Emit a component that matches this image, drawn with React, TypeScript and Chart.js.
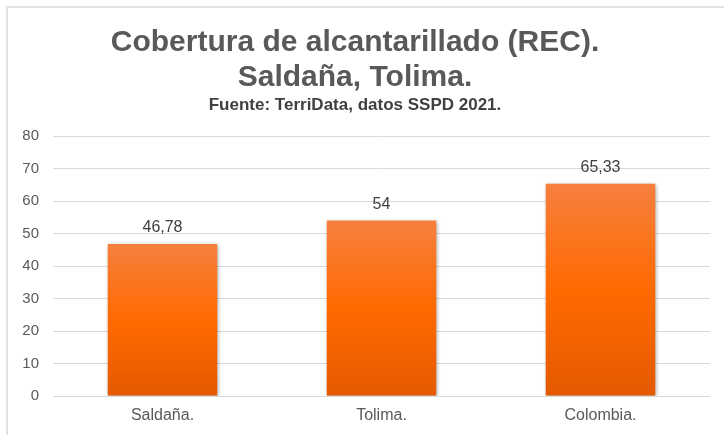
import React, { useEffect, useRef } from "react";
import { Chart, registerables } from "chart.js";

Chart.register(...registerables);

const categories = ["Saldaña.", "Tolima.", "Colombia."];
const coverage = [46.78, 54, 65.33];
const yTicks = [0, 10, 20, 30, 40, 50, 60, 70, 80];
const titleLines = ["Cobertura de alcantarillado (REC).", "Saldaña, Tolima."];
const subtitleText = "Fuente: TerriData, datos SSPD 2021.";

const FONT = "'Liberation Sans', Arial, sans-serif";

const fmt = (v: number) => String(v).replace(".", ",");

const shadowPlugin = {
  id: "barShadow",
  beforeDatasetsDraw(chart: any) {
    const ctx = chart.ctx;
    ctx.save();
    ctx.shadowColor = "rgba(0,0,0,0.35)";
    ctx.shadowBlur = 4;
    ctx.shadowOffsetX = 1;
    ctx.shadowOffsetY = 1;
  },
  afterDatasetsDraw(chart: any) {
    chart.ctx.restore();
  },
};

const labelPlugin = {
  id: "valueLabels",
  afterDatasetsDraw(chart: any) {
    const ctx = chart.ctx;
    const meta = chart.getDatasetMeta(0);
    const data = chart.data.datasets[0].data as number[];
    ctx.save();
    ctx.shadowColor = "transparent";
    ctx.font = `16px ${FONT}`;
    ctx.fillStyle = "#404040";
    ctx.textAlign = "center";
    ctx.textBaseline = "middle";
    meta.data.forEach((el: any, i: number) => {
      ctx.fillText(fmt(data[i]), el.x, el.y - 16);
    });
    ctx.restore();
  },
};

export default function App() {
  const ref = useRef<HTMLCanvasElement | null>(null);

  useEffect(() => {
    if (!ref.current) return;
    const chart = new Chart(ref.current, {
      type: "bar",
      data: {
        labels: categories,
        datasets: [
          {
            data: coverage,
            barPercentage: 0.5,
            categoryPercentage: 1,
            borderWidth: 0,
            backgroundColor: (c: any) => {
              const ch = c.chart;
              const area = ch.chartArea;
              if (!area || c.parsed == null) return "#FF6A00";
              const ys = ch.scales.y;
              const top = ys.getPixelForValue(c.parsed.y);
              const bottom = ys.getPixelForValue(0);
              const g = ch.ctx.createLinearGradient(0, top, 0, bottom);
              g.addColorStop(0, "#F7803F");
              g.addColorStop(0.5, "#FF6A00");
              g.addColorStop(1, "#E45A00");
              return g;
            },
          },
        ],
      },
      options: {
        animation: false,
        responsive: false,
        maintainAspectRatio: false,
        devicePixelRatio: 1,
        layout: { padding: { left: 0, right: 14, top: 0, bottom: 7 } },
        plugins: {
          legend: { display: false },
          tooltip: { enabled: false },
          title: {
            display: true,
            text: titleLines,
            color: "#595959",
            font: { family: FONT, size: 30, weight: "bold", lineHeight: 1.167 },
            padding: { top: 25, bottom: 0 },
          },
          subtitle: {
            display: true,
            text: subtitleText,
            color: "#404040",
            font: { family: FONT, size: 17, weight: "bold", lineHeight: 1.2 },
            padding: { top: 0, bottom: 20.6 },
          },
        },
        scales: {
          x: {
            grid: { display: false, drawTicks: false },
            border: { display: false },
            ticks: {
              color: "#595959",
              font: { family: FONT, size: 16 },
              padding: 10,
            },
            afterFit: (s: any) => {
              s.height = 32;
            },
          },
          y: {
            min: 0,
            max: 80,
            afterBuildTicks: (s: any) => {
              s.ticks = yTicks.map((v) => ({ value: v }));
            },
            grid: { color: "#D9D9D9", lineWidth: 1, drawTicks: false },
            border: { display: false },
            ticks: {
              color: "#595959",
              font: { family: FONT, size: 15 },
              padding: 14,
            },
            afterFit: (s: any) => {
              s.width = 53;
            },
          },
        },
      },
      plugins: [shadowPlugin, labelPlugin],
    });
    return () => chart.destroy();
  }, []);

  return (
    <div style={{ position: "fixed", left: 0, top: 0, width: 724, height: 435, background: "#fff" }}>
      <div
        style={{
          position: "absolute",
          left: 6,
          top: 6,
          width: 740,
          height: 450,
          borderLeft: "2px solid #E3E3E3",
          borderTop: "2px solid #E3E3E3",
        }}
      />
      <canvas ref={ref} width={724} height={435} style={{ position: "absolute", left: 0, top: 0 }} />
    </div>
  );
}
